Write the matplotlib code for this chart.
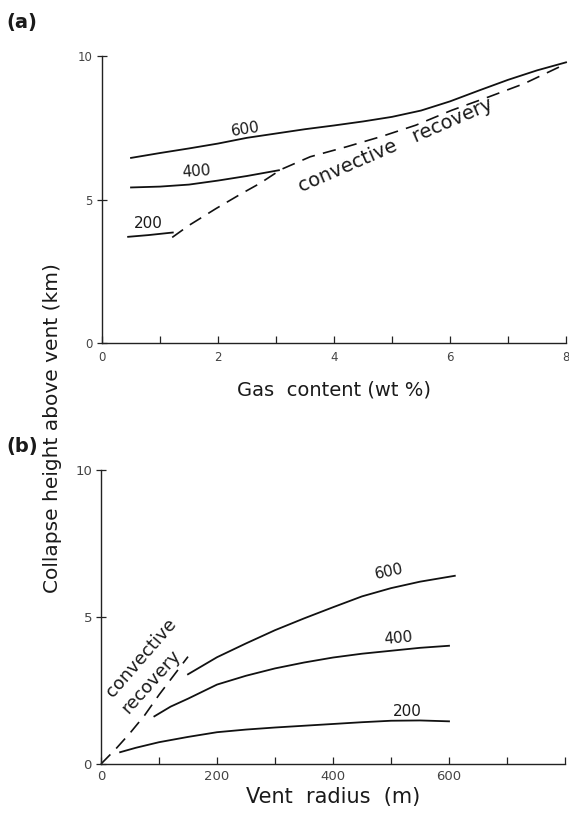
import matplotlib
matplotlib.use("Agg")
import matplotlib.pyplot as plt
from matplotlib.ticker import FixedLocator, FixedFormatter

# ---------------- data: panel (a) ----------------
gas_600 = [0.5, 1.0, 1.5, 2.0, 2.5, 3.0, 3.5, 4.0, 4.5, 5.0, 5.5, 6.0, 6.5, 7.0, 7.5, 8.0]
h_600a = [6.45, 6.62, 6.78, 6.95, 7.15, 7.30, 7.45, 7.58, 7.72, 7.88, 8.10, 8.42, 8.80, 9.17, 9.50, 9.78]
gas_400 = [0.5, 1.0, 1.5, 2.0, 2.5, 3.05]
h_400a = [5.42, 5.45, 5.52, 5.66, 5.82, 6.02]
gas_200 = [0.45, 0.8, 1.22]
h_200a = [3.70, 3.76, 3.85]
gas_cr = [1.21, 1.5, 1.97, 2.4, 2.72, 3.09, 3.59, 4.22, 4.84, 5.41, 6.03, 6.66, 7.28, 8.0]
h_cr_a = [3.68, 4.10, 4.69, 5.20, 5.56, 6.05, 6.49, 6.84, 7.21, 7.59, 8.11, 8.57, 9.04, 9.73]

# ---------------- data: panel (b) ----------------
rad_600 = [150, 200, 250, 300, 350, 400, 450, 500, 550, 610]
h_600b = [3.05, 3.63, 4.10, 4.55, 4.95, 5.33, 5.70, 5.98, 6.20, 6.40]
rad_400 = [92, 120, 150, 200, 250, 300, 350, 400, 450, 500, 550, 600]
h_400b = [1.62, 1.95, 2.22, 2.70, 3.00, 3.25, 3.45, 3.62, 3.75, 3.85, 3.95, 4.02]
rad_200 = [33, 60, 100, 150, 200, 250, 300, 350, 400, 450, 500, 550, 600]
h_200b = [0.40, 0.55, 0.74, 0.92, 1.08, 1.17, 1.24, 1.30, 1.36, 1.42, 1.47, 1.48, 1.45]
rad_cr = [0, 25, 50, 75, 100, 125, 150]
h_cr_b = [0.0, 0.50, 1.05, 1.65, 2.35, 3.00, 3.65]

# tick values / labels
gas_ticks = [0, 1, 2, 3, 4, 5, 6, 7, 8]
gas_ticklabels = ["0", "", "2", "", "4", "", "6", "", "8"]
rad_ticks = [0, 100, 200, 300, 400, 500, 600, 700, 800]
rad_ticklabels = ["0", "", "200", "", "400", "", "600", "", ""]
h_ticks = [0, 5, 10]
h_ticklabels = ["0", "5", "10"]

LINE = dict(color="#111111", lw=1.3, clip_on=False)
DASH = dict(color="#111111", lw=1.2, dashes=(8, 5), clip_on=False)
TXT = "#1a1a1a"

fig = plt.figure(figsize=(5.69, 8.19), dpi=100)
plt.rcParams['font.family'] = ['DejaVu Sans']

ax_a = fig.add_axes([0.1793, 0.5812, 0.8155, 0.3504])
ax_b = fig.add_axes([0.1775, 0.0672, 0.8155, 0.3590])


def style(ax, xt, xtl, xmax, fs, xpad):
    ax.set_xlim(0, xmax)
    ax.set_ylim(0, 10)
    for s in ("top", "right"):
        ax.spines[s].set_visible(False)
    for s in ("left", "bottom"):
        ax.spines[s].set_linewidth(1.0)
        ax.spines[s].set_color("#222222")
    ax.xaxis.set_major_locator(FixedLocator(xt))
    ax.xaxis.set_major_formatter(FixedFormatter(xtl))
    ax.yaxis.set_major_locator(FixedLocator(h_ticks))
    ax.yaxis.set_major_formatter(FixedFormatter(h_ticklabels))
    ax.tick_params(axis="x", direction="in", length=5, width=0.9, colors="#222222",
                   labelcolor="#444444", labelsize=fs, pad=xpad)
    ax.tick_params(axis="y", direction="inout", length=7, width=0.9, colors="#222222",
                   labelcolor="#444444", labelsize=fs, pad=3)
    ax.patch.set_alpha(0)


# panel (a)
style(ax_a, gas_ticks, gas_ticklabels, 8, 8.5, 6)
ax_a.plot(gas_600, h_600a, **LINE)
ax_a.plot(gas_400, h_400a, **LINE)
ax_a.plot(gas_200, h_200a, **LINE)
ax_a.plot(gas_cr, h_cr_a, **DASH)
ax_a.text(2.47, 7.45, "600", fontsize=11, rotation=9, ha="center", va="center", color=TXT)
ax_a.text(1.63, 5.97, "400", fontsize=11, rotation=4, ha="center", va="center", color=TXT)
ax_a.text(0.79, 4.18, "200", fontsize=11, rotation=0, ha="center", va="center", color=TXT)
ax_a.text(5.06, 6.88, "convective   recovery", fontsize=14, rotation=23.5,
          ha="center", va="center", rotation_mode="anchor", color=TXT)
ax_a.set_xlabel("Gas  content (wt %)", fontsize=14, labelpad=12, color=TXT)

# panel (b)
style(ax_b, rad_ticks, rad_ticklabels, 800, 9.5, 4)
ax_b.plot(rad_600, h_600b, **LINE)
ax_b.plot(rad_400, h_400b, **LINE)
ax_b.plot(rad_200, h_200b, **LINE)
ax_b.plot(rad_cr, h_cr_b, **DASH)
ax_b.text(497, 6.55, "600", fontsize=11, rotation=12, ha="center", va="center", color=TXT)
ax_b.text(512, 4.28, "400", fontsize=11, rotation=5, ha="center", va="center", color=TXT)
ax_b.text(528, 1.80, "200", fontsize=11, rotation=0, ha="center", va="center", color=TXT)
ax_b.text(69, 3.62, "convective", fontsize=13, rotation=49,
          ha="center", va="center", rotation_mode="anchor", color=TXT)
ax_b.text(87, 2.80, "recovery", fontsize=13, rotation=48,
          ha="center", va="center", rotation_mode="anchor", color=TXT)
ax_b.set_xlabel("Vent  radius  (m)", fontsize=15, labelpad=3, color=TXT)

# shared y label and panel letters
fig.text(0.092, 0.477, "Collapse height above vent (km)", rotation=90, fontsize=14.5,
         ha="center", va="center", color=TXT)
fig.text(0.012, 0.973, "(a)", fontsize=14, fontweight="bold", ha="left", va="center", color=TXT)
fig.text(0.012, 0.455, "(b)", fontsize=14, fontweight="bold", ha="left", va="center", color=TXT)

fig.savefig("out.png", dpi=100)
